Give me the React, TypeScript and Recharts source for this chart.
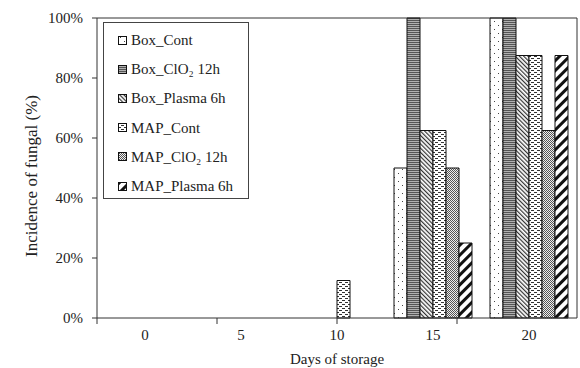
import { BarChart, Bar, XAxis, YAxis, Legend, ReferenceLine } from "recharts";

const days = ["0", "5", "10", "15", "20"];
const boxCont = [0, 0, 0, 0.5, 1];
const boxClo2 = [0, 0, 0, 1, 1];
const boxPlasma = [0, 0, 0, 0.625, 0.875];
const mapCont = [0, 0, 0.125, 0.625, 0.875];
const mapClo2 = [0, 0, 0, 0.5, 0.625];
const mapPlasma = [0, 0, 0, 0.25, 0.875];
const yTicks = [0, 0.2, 0.4, 0.6, 0.8, 1];
const edgeTicks = [0, 1, 2, 3, 4, 5];

const series = [
  { key: "boxCont", name: "Box_Cont", pat: "p-dots" },
  { key: "boxClo2", name: "Box_ClO\u2082 12h", pat: "p-hlines" },
  { key: "boxPlasma", name: "Box_Plasma 6h", pat: "p-diag" },
  { key: "mapCont", name: "MAP_Cont", pat: "p-dash" },
  { key: "mapClo2", name: "MAP_ClO\u2082 12h", pat: "p-check" },
  { key: "mapPlasma", name: "MAP_Plasma 6h", pat: "p-thick" },
];

const data = days.map((d, i) => ({
  day: d,
  boxCont: boxCont[i],
  boxClo2: boxClo2[i],
  boxPlasma: boxPlasma[i],
  mapCont: mapCont[i],
  mapClo2: mapClo2[i],
  mapPlasma: mapPlasma[i],
}));

const FONT = "'Liberation Serif', 'Times New Roman', serif";
const INK = "#222";
const AXIS = "#333";

function Patterns() {
  return (
    <defs>
      <pattern id="p-dots" width="8" height="8" patternUnits="userSpaceOnUse">
        <rect width="8" height="8" fill="#fff" />
        <rect x="2" y="1" width="1" height="1" fill="#444" />
        <rect x="6" y="5" width="1" height="1" fill="#444" />
      </pattern>
      <pattern id="p-hlines" width="4" height="2" patternUnits="userSpaceOnUse">
        <rect width="4" height="2" fill="#b0b0b0" />
        <rect width="4" height="1" fill="#555" />
      </pattern>
      <pattern id="p-diag" width="3" height="3" patternUnits="userSpaceOnUse" patternTransform="rotate(-45)">
        <rect width="3" height="3" fill="#fff" />
        <rect width="1.2" height="3" fill="#333" />
      </pattern>
      <pattern id="p-dash" width="6" height="4" patternUnits="userSpaceOnUse">
        <rect width="6" height="4" fill="#fff" />
        <rect x="0" y="0" width="3" height="1" fill="#333" />
        <rect x="3" y="2" width="3" height="1" fill="#333" />
      </pattern>
      <pattern id="p-check" width="2" height="2" patternUnits="userSpaceOnUse">
        <rect width="2" height="2" fill="#eee" />
        <rect width="1" height="1" fill="#555" />
        <rect x="1" y="1" width="1" height="1" fill="#555" />
      </pattern>
      <pattern id="p-thick" width="7" height="7" patternUnits="userSpaceOnUse" patternTransform="rotate(45)">
        <rect width="7" height="7" fill="#fff" />
        <rect width="3" height="7" fill="#111" />
      </pattern>
    </defs>
  );
}

function LegendBox() {
  return (
    <div
      style={{
        width: 144,
        height: 172,
        border: "1px solid #444",
        background: "#fff",
        fontFamily: FONT,
        fontSize: 15,
        color: INK,
        boxSizing: "content-box",
        paddingTop: 3,
      }}
    >
      {series.map((s) => (
        <div key={s.key} style={{ display: "flex", alignItems: "center", height: 29.2, paddingLeft: 14 }}>
          <svg width={10} height={10} style={{ marginRight: 3 }}>
            <rect x={0.5} y={0.5} width={8} height={8} fill={`url(#${s.pat})`} stroke="#111" />
          </svg>
          <span>{s.name}</span>
        </div>
      ))}
    </div>
  );
}

function YTitle(props: any) {
  const vb = props.viewBox;
  const cx = 31;
  const cy = vb.y + vb.height / 2 + 8;
  return (
    <text
      x={cx}
      y={cy}
      transform={`rotate(-90 ${cx} ${cy})`}
      textAnchor="middle"
      dominantBaseline="central"
      fontFamily={FONT}
      fontSize={17}
      fill={INK}
    >
      Incidence of fungal (%)
    </text>
  );
}

export default function App() {
  return (
    <div style={{ position: "absolute", left: 0, top: 0, width: 580, height: 368, background: "#fff" }}>
      <BarChart
        width={580}
        height={368}
        data={data}
        margin={{ top: 18, right: 2, left: 0, bottom: 0 }}
        barSize={13}
        barGap={0}
      >
        <Patterns />
        {/* axis line + boundary tick marks between day groups */}
        <XAxis
          type="number"
          domain={[0, 5]}
          ticks={edgeTicks}
          tickFormatter={() => ""}
          height={1}
          tickSize={6}
          stroke={AXIS}
          axisLine={{ stroke: AXIS }}
          tickLine={{ stroke: AXIS }}
        />
        <XAxis
          xAxisId="cat"
          dataKey="day"
          height={49}
          axisLine={false}
          tickLine={false}
          tickMargin={4}
          tick={{ fill: INK, fontFamily: FONT, fontSize: 15 }}
          label={{
            value: "Days of storage",
            position: "insideBottom",
            offset: 4,
            fill: INK,
            fontFamily: FONT,
            fontSize: 15,
          }}
        />
        <YAxis
          width={97}
          domain={[0, 1]}
          ticks={yTicks}
          tickFormatter={(v: number) => `${Math.round(v * 100)}%`}
          tickSize={5}
          tickMargin={9}
          tick={{ fill: INK, fontFamily: FONT, fontSize: 15 }}
          axisLine={{ stroke: AXIS }}
          tickLine={{ stroke: AXIS }}
          label={<YTitle />}
        />
        <YAxis
          yAxisId="r"
          orientation="right"
          width={1}
          domain={[0, 1]}
          tick={false}
          tickLine={false}
          axisLine={{ stroke: AXIS }}
        />
        <ReferenceLine y={1} stroke={AXIS} ifOverflow="extendDomain" />
        {series.map((s) => (
          <Bar
            key={s.key}
            xAxisId="cat"
            dataKey={s.key}
            name={s.name}
            fill={`url(#${s.pat})`}
            stroke="#111"
            strokeWidth={1}
            isAnimationActive={false}
          />
        ))}
        <Legend
          layout="vertical"
          align="center"
          verticalAlign="middle"
          content={<LegendBox />}
          wrapperStyle={{ position: "absolute", left: 103, top: 22, width: "auto" }}
        />
      </BarChart>
    </div>
  );
}
